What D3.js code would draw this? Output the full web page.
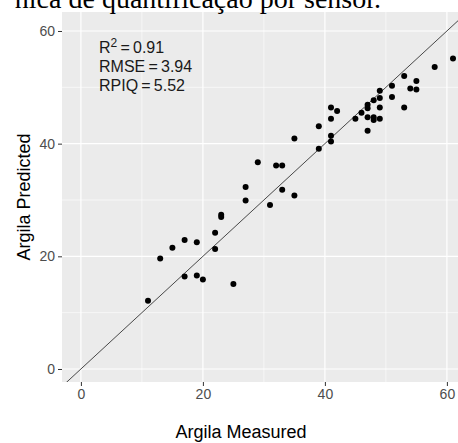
<!DOCTYPE html>
<html>
<head>
<meta charset="utf-8">
<script src="https://cdn.jsdelivr.net/npm/d3@7"></script>
<style>
  body { margin: 0; background: #fff; }
  svg { display: block; }
</style>
</head>
<body>
<script>
// values
const measured  = [11, 13, 15, 17, 17, 19, 19, 20, 22, 22, 23, 23, 25, 27, 27, 29, 31, 32, 33, 33,
                   35, 35, 39, 39, 41, 41, 41, 41, 42, 45, 46, 47, 47, 47, 47, 48, 48, 48,
                   49, 49, 49, 49, 51, 51, 53, 53, 54, 55, 55, 58, 61];
const predicted = [12.1, 19.6, 21.5, 22.9, 16.4, 22.5, 16.6, 15.9, 21.3, 24.2, 27.4, 27.0, 15.1, 29.9, 32.3, 36.7, 29.1, 36.1, 31.8, 36.1,
                   30.8, 40.9, 39.1, 43.1, 40.4, 41.4, 44.4, 46.4, 45.8, 44.4, 45.5, 46.9, 46.3, 44.7, 42.3, 47.7, 44.7, 44.2,
                   49.4, 48.1, 46.4, 44.4, 50.3, 48.3, 52.0, 46.4, 49.8, 51.1, 49.6, 53.6, 55.1];
const majorTicks = [0, 20, 40, 60];
const minorTicks = [10, 30, 50];
const statLines = [["RMSE", "3.94"], ["RPIQ", "5.52"]];
const r2 = "0.91";

const W = 458, H = 443;
const panel = {left: 62, top: 12, right: 478, bottom: 382};

var svg = d3.select("body").append("svg")
    .attr("width", W)
    .attr("height", H);

var x = d3.scaleLinear().domain([-3.1, 65.1]).range([panel.left, panel.right]);
var y = d3.scaleLinear().domain([-2.31, 63.37]).range([panel.bottom, panel.top]);

svg.append("clipPath").attr("id", "clip")
  .append("rect")
    .attr("x", panel.left).attr("y", panel.top)
    .attr("width", panel.right - panel.left).attr("height", panel.bottom - panel.top);

// grey panel
svg.append("rect")
    .attr("x", panel.left).attr("y", panel.top)
    .attr("width", panel.right - panel.left)
    .attr("height", panel.bottom - panel.top)
    .attr("fill", "#ebebeb");

var grid = svg.append("g").attr("clip-path", "url(#clip)");

// minor grid
grid.selectAll(".vminor").data(minorTicks).enter().append("line")
    .attr("x1", d => x(d)).attr("x2", d => x(d))
    .attr("y1", panel.top).attr("y2", panel.bottom)
    .attr("stroke", "#fff").attr("stroke-width", 0.6);
grid.selectAll(".hminor").data(minorTicks).enter().append("line")
    .attr("y1", d => y(d)).attr("y2", d => y(d))
    .attr("x1", panel.left).attr("x2", panel.right)
    .attr("stroke", "#fff").attr("stroke-width", 0.6);

// major grid
grid.selectAll(".vmajor").data(majorTicks).enter().append("line")
    .attr("x1", d => x(d)).attr("x2", d => x(d))
    .attr("y1", panel.top).attr("y2", panel.bottom)
    .attr("stroke", "#fff").attr("stroke-width", 1.2);
grid.selectAll(".hmajor").data(majorTicks).enter().append("line")
    .attr("y1", d => y(d)).attr("y2", d => y(d))
    .attr("x1", panel.left).attr("x2", panel.right)
    .attr("stroke", "#fff").attr("stroke-width", 1.2);

// 1:1 line
grid.append("line")
    .attr("x1", x(-5)).attr("y1", y(-5))
    .attr("x2", x(70)).attr("y2", y(70))
    .attr("stroke", "#000").attr("stroke-width", 0.7);

// points
grid.selectAll(".pt").data(measured).enter().append("circle")
    .attr("class", "pt")
    .attr("cx", d => x(d))
    .attr("cy", (d, i) => y(predicted[i]))
    .attr("r", 3)
    .attr("fill", "#000");

// axes
var xAxis = d3.axisBottom(x).tickValues(majorTicks).tickSize(4).tickPadding(3);
var yAxis = d3.axisLeft(y).tickValues(majorTicks).tickSize(4).tickPadding(3);

var gx = svg.append("g")
    .attr("transform", "translate(0," + panel.bottom + ")")
    .call(xAxis);
var gy = svg.append("g")
    .attr("transform", "translate(" + panel.left + ",0)")
    .call(yAxis);

[gx, gy].forEach(function(g) {
    g.select(".domain").remove();
    g.selectAll(".tick line").attr("stroke", "#333").attr("stroke-width", 1);
    g.selectAll(".tick text")
        .attr("fill", "#4d4d4d")
        .style("font-family", "Arial, 'Liberation Sans', sans-serif")
        .style("font-size", "14px");
});
gx.selectAll(".tick text").attr("dy", "0.71em");

// axis titles
svg.append("text")
    .attr("x", (panel.left + 420) / 2 + 0)
    .attr("y", 438)
    .attr("text-anchor", "middle")
    .style("font-family", "Arial, 'Liberation Sans', sans-serif")
    .style("font-size", "18px")
    .attr("fill", "#000")
    .text("Argila Measured");

svg.append("text")
    .attr("transform", "translate(30," + ((panel.top + panel.bottom) / 2) + ") rotate(-90)")
    .attr("text-anchor", "middle")
    .style("font-family", "Arial, 'Liberation Sans', sans-serif")
    .style("font-size", "18px")
    .attr("fill", "#000")
    .text("Argila Predicted");

// stats annotation
var ann = svg.append("g")
    .style("font-family", "Arial, 'Liberation Sans', sans-serif")
    .style("font-size", "16px")
    .attr("fill", "#1a1a1a");

var t1 = ann.append("text").attr("x", 99).attr("y", 53);
t1.append("tspan").text("R");
t1.append("tspan").attr("dy", -6).style("font-size", "12px").text("2");
t1.append("tspan").attr("dy", 6).text("\u2009=\u2009" + r2);

ann.selectAll(".stat").data(statLines).enter().append("text")
    .attr("x", 99)
    .attr("y", (d, i) => 72 + i * 19)
    .text(d => d[0] + "\u2009=\u2009" + d[1]);

// caption from the surrounding document, cut at the top edge like the reference
svg.append("text")
    .attr("x", 381)
    .attr("y", 8)
    .attr("text-anchor", "end")
    .style("font-family", "'Liberation Serif', 'Times New Roman', serif")
    .style("font-size", "28px")
    .attr("fill", "#000")
    .text("nica de quantificação por sensor.");
</script>
</body>
</html>
